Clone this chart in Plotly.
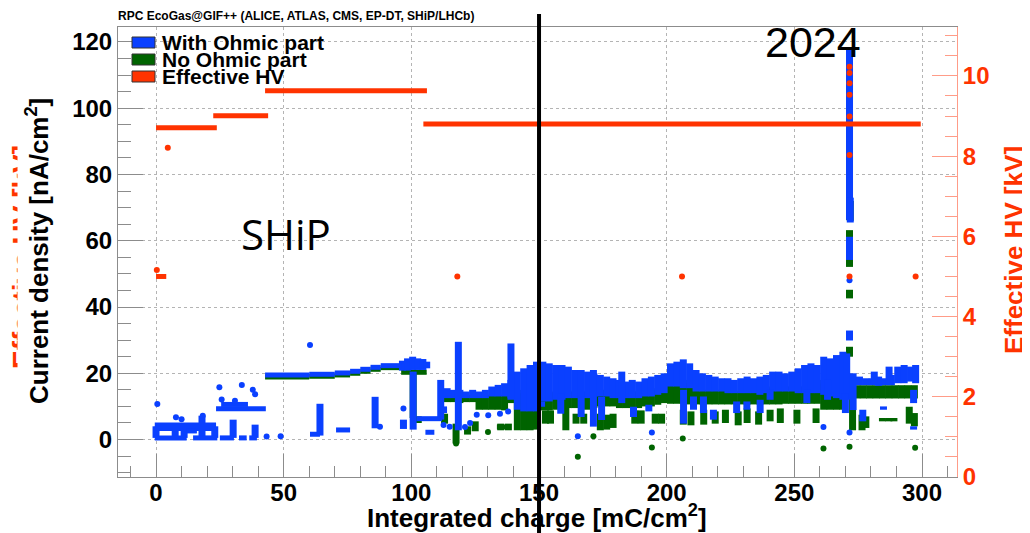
import plotly.graph_objects as go

# ---------------- data ----------------
x_ticks = [0, 50, 100, 150, 200, 250, 300]
y_ticks = [0, 20, 40, 60, 80, 100, 120]
hv_ticks = [0, 2, 4, 6, 8, 10]

# "With Ohmic part" - vertical runs of points (x, low, high) [nA/cm2]
blue_run_x = [0.0, 7.5, 11.0, 18.0, 23.0, 30.2, 38.8,
              64.2, 85.8, 96.9, 100.7,
              96.5, 98.5, 100.5, 102.5, 104.5, 106.0,
              111.5, 112.6,
              114.0, 116.5, 119.0, 121.5, 124.0, 126.5, 129.0, 131.5, 134.0, 136.5, 139.0, 141.5, 144.0, 146.5, 149.0,
              118.4, 139.0,
              151.5, 154.0, 156.5, 159.0, 161.5, 164.0, 166.5, 169.0, 171.5, 174.0,
              176.5, 179.0, 181.5, 184.0, 186.5, 189.0, 191.5, 194.0, 196.5, 199.0,
              151.0, 158.5, 166.5, 171.3, 174.5, 182.4, 187.0, 193.0,
              201.5, 204.0, 206.5, 209.0, 211.5, 214.0, 216.5, 219.0, 221.5, 224.0,
              226.5, 229.0, 231.5, 234.0, 236.5, 239.0, 241.5, 244.0, 246.5, 249.0,
              251.5, 254.0, 256.5, 259.0, 261.5, 264.0, 266.5, 269.0, 270.5,
              273.0, 275.5, 278.0, 280.5, 283.0, 285.5, 288.0, 290.5, 293.0, 295.5, 297.5, 281.3, 287.1,
              206.6, 210.5, 214.4, 218.3, 227.4, 231.4, 236.6, 240.5, 254.9, 263.0, 270.0, 276.8, 284.9, 296.7, 296.7,
              271.6, 271.9, 271.6, 271.6]
blue_run_lo = [0.5, 0.5, 0.5, 0.5, 0.5, 0.5, 0.5,
               1.2, 3.4, 3.2, 3.0,
               20.8, 20.8, 21.0, 21.0, 21.0, 21.5,
               6.0, 8.0,
               12.5, 12.5, 12.5, 12.5, 12.5, 12.5, 12.5, 13.0, 13.0, 13.0, 12.5, 9.0, 8.5, 8.5, 8.5,
               2.8, 12.0,
               11.5, 11.5, 12.0, 12.0, 12.5, 12.5, 12.5, 12.5, 13.0, 13.0,
               13.0, 12.5, 12.5, 12.5, 12.5, 12.5, 13.0, 13.0, 13.5, 14.0,
               9.9, 7.8, 6.8, 3.9, 5.9, 11.0, 6.8, 8.5,
               16.0, 16.0, 15.5, 15.5, 14.5, 14.5, 14.5, 14.5, 14.5, 14.0,
               14.0, 14.0, 14.0, 14.0, 13.5, 14.0, 14.5, 14.5, 14.5, 14.5,
               14.0, 14.0, 14.0, 14.0, 13.5, 13.0, 12.5, 12.0, 12.0,
               8.9, 16.4, 16.4, 16.4, 16.2, 16.4, 16.4, 17.0, 17.0, 17.5, 17.0, 16.5, 16.5,
               4.8, 9.0, 8.0, 6.0, 8.0, 9.0, 8.0, 12.0, 11.0, 12.0, 8.0, 5.5, 9.0, 11.0, 3.0,
               66.3, 65.5, 54.2, 29.9]
blue_run_hi = [4.0, 4.0, 4.0, 7.2, 4.0, 6.0, 4.5,
               10.8, 12.9, 6.0, 20.5,
               23.8, 24.5, 25.0, 24.5, 24.3, 23.5,
               18.0, 10.0,
               15.5, 15.0, 15.0, 14.5, 15.0, 14.5, 15.0, 16.0, 16.5, 17.0, 18.0, 20.5, 21.5, 22.5, 23.5,
               29.5, 29.0,
               23.5, 23.0, 22.5, 22.5, 22.0, 21.0, 21.0, 20.5, 20.0, 19.5,
               19.0, 18.5, 18.0, 17.5, 18.0, 17.5, 18.5, 19.0, 19.5, 20.0,
               11.5, 14.0, 12.9, 21.0, 12.9, 20.5, 9.9, 10.5,
               23.0, 23.5, 24.2, 23.0, 21.0, 20.0, 19.5, 19.0, 18.5, 18.5,
               18.0, 18.5, 19.0, 18.5, 19.0, 19.5, 20.5, 20.5, 20.0, 20.5,
               21.5, 22.5, 23.0, 22.5, 25.0, 24.5, 25.5, 26.5, 26.0,
               20.0, 19.0, 18.5, 18.5, 19.0, 18.5, 19.5, 22.0, 22.5, 22.0, 22.5, 20.5, 22.0,
               15.0, 13.0, 13.0, 9.0, 11.5, 11.5, 12.0, 15.0, 15.0, 18.0, 14.0, 9.0, 10.0, 15.0, 4.0,
               118.0, 73.0, 61.2, 32.9]
# "With Ohmic part" - horizontal runs (y, x_start, x_end)
blue_flat_y = [0.5, 0.5, 0.5, 0.5, 0.5, 4.4, 3.3, 2.6, 9.3, 10.6,
               19.5, 19.7, 20.1, 20.6, 21.2, 21.8, 22.3, 1.6, 2.9, 6.3, 2.2]
blue_flat_x0 = [-0.5, 14.5, 25.0, 32.5, 36.5, -0.5, -0.5, 12.0, 23.5, 25.5,
                42.7, 60.0, 70.0, 76.0, 80.0, 84.0, 88.0, 60.3, 70.5, 102.0, 105.5]
blue_flat_x1 = [12.0, 24.0, 30.5, 35.5, 39.5, 23.5, 23.5, 16.0, 43.0, 36.0,
                60.0, 70.0, 76.0, 80.0, 84.0, 88.0, 96.0, 64.2, 76.0, 112.0, 109.0]
# "With Ohmic part" - isolated points
blue_pt_x = [0.5, 7.8, 10.0, 18.3, 24.8, 33.6, 37.9, 38.8, 25.7, 30.9,
             43.3, 48.8, 60.3, 87.7, 96.9,
             112.6, 115.0, 121.0, 123.0, 125.6, 130.1, 134.7, 137.9,
             165.2, 194.2, 261.4, 271.6, 271.6]
blue_pt_y = [10.7, 6.7, 6.1, 7.2, 15.8, 16.5, 15.0, 13.7, 12.1, 11.7,
             0.9, 1.0, 28.5, 3.9, 9.4,
             4.4, 3.9, 3.8, 5.0, 7.5, 7.3, 7.8, 8.5,
             1.0, 2.1, 3.8, 2.1, 48.1]

# "No Ohmic part" - vertical runs (x, low, high)
green_run_x = [100.7, 102.7,
               114.0, 116.5, 119.0, 121.5, 124.0, 126.5, 129.0, 131.5, 134.0, 136.5, 139.0,
               113.0, 117.5, 122.0, 125.0, 135.0, 138.0,
               141.5, 144.0, 146.5, 149.0,
               151.5, 154.0, 156.5, 159.0, 161.5, 164.0, 166.5, 169.0, 171.5, 174.0,
               176.5, 179.0, 181.5, 184.0, 186.5, 189.0, 191.5, 194.0, 196.5, 199.0,
               152.5, 154.5, 160.5, 164.5, 167.5, 174.0, 176.5, 179.0, 187.5, 190.0, 195.5, 198.0,
               201.5, 204.0, 206.5, 209.0, 211.5, 214.0, 216.5, 219.0, 221.5, 224.0,
               226.5, 229.0, 231.5, 234.0, 236.5, 239.0, 241.5, 244.0, 246.5, 249.0,
               251.5, 254.0, 256.5, 259.0, 261.5, 264.0, 266.5, 269.0,
               206.5, 209.5, 214.5, 219.0, 223.0, 228.0, 231.5, 236.0, 240.5, 244.5, 251.0, 258.5,
               271.6, 271.9, 271.6, 271.6, 271.6, 272.8,
               274.5, 277.0, 279.5, 282.0, 284.5, 287.0, 289.5, 292.0, 294.5, 297.0,
               276.5, 278.0, 284.5, 287.0, 289.0, 295.0, 297.0]
green_run_lo = [6.5, 5.0,
                11.3, 11.3, 11.0, 11.3, 11.3, 9.0, 9.0, 9.0, 9.0, 8.8, 11.0,
                4.8, -1.2, 1.5, 2.5, 2.8, 2.8,
                2.8, 2.8, 2.8, 3.0,
                8.8, 8.8, 9.0, 9.0, 9.5, 9.5, 9.5, 9.0, 9.5, 10.0,
                10.0, 10.0, 9.5, 9.5, 9.5, 9.5, 10.0, 10.0, 10.5, 11.0,
                4.8, 4.8, 2.8, 4.8, 4.8, 2.8, 3.0, 3.5, 4.8, 4.8, 4.8, 4.8,
                10.8, 10.8, 10.8, 10.6, 10.6, 10.6, 10.6, 10.6, 10.6, 10.6,
                10.6, 10.6, 10.6, 10.6, 10.6, 10.6, 10.6, 10.6, 10.8, 10.8,
                10.8, 10.8, 10.8, 10.8, 9.0, 9.0, 9.0, 9.0,
                4.5, 4.3, 4.5, 4.8, 5.0, 4.3, 5.0, 4.5, 5.5, 5.0, 4.8, 5.0,
                66.3, 66.0, 52.1, 42.6, 25.0, 2.8,
                12.4, 12.4, 12.4, 12.4, 12.4, 12.4, 12.4, 12.4, 12.4, 12.4,
                2.8, 3.5, 5.5, 5.5, 5.5, 4.8, 4.0]
green_run_hi = [20.0, 7.0,
                13.5, 13.5, 13.5, 13.5, 13.5, 13.5, 13.5, 13.5, 13.5, 13.5, 14.0,
                7.8, 4.8, 4.0, 5.5, 4.8, 4.8,
                14.0, 15.0, 15.0, 15.5,
                14.0, 14.0, 14.5, 14.5, 14.5, 14.5, 14.5, 14.5, 15.0, 15.0,
                15.0, 15.0, 14.5, 14.5, 14.5, 14.5, 15.0, 15.0, 15.5, 16.0,
                8.8, 8.8, 14.0, 7.8, 7.8, 7.8, 7.5, 7.8, 8.8, 8.8, 7.8, 7.8,
                18.0, 18.0, 18.0, 17.0, 15.0, 15.0, 15.0, 15.0, 15.0, 14.5,
                14.5, 14.5, 15.0, 15.0, 15.0, 15.5, 16.0, 16.0, 16.0, 16.0,
                16.0, 16.0, 16.5, 17.0, 18.0, 18.0, 18.0, 18.5,
                9.0, 8.5, 9.0, 8.5, 9.0, 8.5, 9.4, 8.5, 9.0, 9.4, 9.0, 9.4,
                108.5, 72.0, 63.2, 45.2, 28.0, 16.0,
                16.4, 16.4, 16.4, 16.4, 16.4, 16.4, 16.4, 16.4, 16.4, 16.4,
                7.5, 7.0, 6.5, 6.5, 6.5, 9.9, 8.0]
green_flat_y = [18.9, 19.1, 19.5, 20.0, 20.6, 21.2, 21.7, 20.3, 3.8]
green_flat_x0 = [42.7, 60.0, 70.0, 76.0, 80.0, 84.0, 88.0, 96.0, 133.5]
green_flat_x1 = [60.0, 70.0, 76.0, 80.0, 84.0, 88.0, 96.0, 106.0, 139.0]
green_pt_x = [117.5, 165.2, 171.3, 194.2, 206.3, 261.4, 271.6, 297.3, 130.0]
green_pt_y = [-1.2, -5.2, 1.0, -2.4, 0.3, -2.7, -2.2, -2.5, 2.3]

# Effective HV [kV]
hv_flat_y = [8.71, 9.01, 9.63, 8.80, 5.0]
hv_flat_x0 = [0.0, 22.4, 42.7, 104.7, 0.0]
hv_flat_x1 = [23.8, 43.9, 106.1, 299.5, 4.0]
hv_pt_x = [4.6, 0.3, 118.0, 206.0, 297.5, 271.6, 271.6, 271.6, 271.6, 271.6, 271.6, 271.6]
hv_pt_y = [8.21, 5.16, 5.0, 5.0, 5.0, 10.23, 10.07, 9.82, 9.53, 8.99, 8.03, 5.0]

marker_charge = 150  # vertical marker line position [mC/cm2]

# ---------------- styling ----------------
BLUE = '#0a40ff'
GREEN = '#006400'
RED = '#ff3300'
SALMON = '#ff9c88'
FRAME = '#8c8c8c'
FONT = 'Liberation Sans, Arial, Helvetica, sans-serif'

W, H = 1030, 533          # window size
OFF = 8                   # page body margin of the html page
L, R, T, B = 118, 957, 27, 477   # plot frame in window pixels


def px(xp):
    return (xp - L) / (R - L)


def py(yp):
    return (B - yp) / (B - T)


def vruns(xs, lo, hi):
    X, Y = [], []
    for x, a, b in zip(xs, lo, hi):
        X += [x, x, None]
        Y += [a, b, None]
    return X, Y


def hruns(ys, x0, x1):
    X, Y = [], []
    for y, a, b in zip(ys, x0, x1):
        X += [a, b, None]
        Y += [y, y, None]
    return X, Y


fig = go.Figure()


def add_series(run, flat, pts, color, yaxis='y', run_w=7, flat_w=6, msize=6):
    if run:
        rx, ry = vruns(*run)
        fig.add_trace(go.Scatter(x=rx, y=ry, mode='lines', yaxis=yaxis,
                                 line=dict(color=color, width=run_w), hoverinfo='skip'))
    fx, fy = hruns(*flat)
    fig.add_trace(go.Scatter(x=fx, y=fy, mode='lines', yaxis=yaxis,
                             line=dict(color=color, width=flat_w), hoverinfo='skip'))
    fig.add_trace(go.Scatter(x=pts[0], y=pts[1], mode='markers', yaxis=yaxis,
                             marker=dict(color=color, size=msize, line=dict(width=0))))


add_series((green_run_x, green_run_lo, green_run_hi),
           (green_flat_y, green_flat_x0, green_flat_x1),
           (green_pt_x, green_pt_y), GREEN, flat_w=5)
add_series((blue_run_x, blue_run_lo, blue_run_hi),
           (blue_flat_y, blue_flat_x0, blue_flat_x1),
           (blue_pt_x, blue_pt_y), BLUE, flat_w=5)
add_series(None,
           (hv_flat_y, hv_flat_x0, hv_flat_x1),
           (hv_pt_x, hv_pt_y), RED, yaxis='y2', flat_w=5, msize=6)

tick_font = dict(family=FONT, size=24, color='black', weight='bold')

fig.update_layout(
    width=W - OFF, height=H - OFF,
    margin=dict(l=L - OFF, r=W - R, t=T - OFF, b=H - B, autoexpand=False),
    paper_bgcolor='white', plot_bgcolor='white',
    showlegend=False,
    font=dict(family=FONT),
    xaxis=dict(range=[-14.9, 313.7], tickvals=x_ticks, ticktext=[str(v) for v in x_ticks],
               ticks='inside', ticklen=23, tickwidth=1, tickcolor=FRAME,
               showgrid=True, gridcolor='#b4b4b4', griddash='dot', gridwidth=1,
               showline=True, linecolor=FRAME, linewidth=1, mirror=True,
               zeroline=False, tickfont=tick_font, ticklabelstandoff=-6,
               minor=dict(tick0=0, dtick=10, ticks='inside', ticklen=11,
                          tickcolor=FRAME, tickwidth=1, showgrid=False)),
    yaxis=dict(range=[-11.3, 124.5], tickvals=y_ticks, ticktext=[str(v) for v in y_ticks],
               ticks='inside', ticklen=25, tickwidth=1, tickcolor=FRAME,
               showgrid=True, gridcolor='#b4b4b4', griddash='dot', gridwidth=1,
               showline=True, linecolor=FRAME, linewidth=1, mirror=False,
               zeroline=False, tickfont=tick_font,
               minor=dict(tick0=0, dtick=5, ticks='inside', ticklen=13,
                          tickcolor=FRAME, tickwidth=1, showgrid=False)),
    yaxis2=dict(range=[0, 11.22], overlaying='y', side='right',
                tickvals=hv_ticks, ticktext=[str(v) for v in hv_ticks],
                ticks='inside', ticklen=25, tickwidth=1, tickcolor=SALMON,
                showgrid=False, showline=True, linecolor=SALMON, linewidth=1,
                zeroline=False, tickfont=dict(family=FONT, size=24, color=RED, weight='bold'),
                minor=dict(tick0=0, dtick=0.5, ticks='inside', ticklen=12,
                           tickcolor=SALMON, tickwidth=1)),
)

# vertical marker line at 150 mC/cm2
fig.add_shape(type='line', xref='x', yref='paper', x0=marker_charge, x1=marker_charge,
              y0=py(533), y1=py(14), line=dict(color='black', width=4), layer='above')

ann = []
ann.append(dict(text='RPC EcoGas@GIF++ (ALICE, ATLAS, CMS, EP-DT, SHiP/LHCb)',
                x=px(116), y=py(16), xanchor='left', yanchor='middle',
                font=dict(family=FONT, size=12, color='black', weight='bold')))
# legend
legend_items = [('With Ohmic part', BLUE), ('No Ohmic part', GREEN), ('Effective HV', RED)]
legend_rows = [42.5, 59.5, 76.5]
for (label, col), yc in zip(legend_items, legend_rows):
    fig.add_shape(type='rect', xref='paper', yref='paper',
                  x0=px(132), x1=px(155), y0=py(yc + 5.5), y1=py(yc - 5.5),
                  fillcolor=col, line=dict(color='#333333', width=1), layer='above')
    ann.append(dict(text=label, x=px(160), y=py(yc), xanchor='left', yanchor='middle',
                    font=dict(family=FONT, size=21, color='black', weight='bold')))
ann.append(dict(text='2024', x=px(813), y=py(42), xanchor='center', yanchor='middle',
                font=dict(family=FONT, size=43, color='black')))
ann.append(dict(text='SHiP', x=px(286), y=py(234), xanchor='center', yanchor='middle',
                font=dict(family='Open Sans, Noto Sans, sans-serif', size=42, color='black')))
# a second, mostly hidden axis title lying behind the left one (only its tops peek out)
ann.append(dict(text='Effective HV [kV]', x=px(23), y=py(257),
                textangle=-90, xanchor='center', yanchor='middle',
                font=dict(family=FONT, size=28, color=RED, weight='bold')))
ann.append(dict(text='Current density [nA/cm<sup>2</sup>]', x=px(37), y=py(251),
                textangle=-90, xanchor='center', yanchor='middle',
                bgcolor='white', borderpad=3,
                font=dict(family=FONT, size=26, color='black', weight='bold')))
ann.append(dict(text='Integrated charge [mC/cm<sup>2</sup>]', x=px(537), y=py(516),
                xanchor='center', yanchor='middle',
                font=dict(family=FONT, size=26, color='black', weight='bold')))
ann.append(dict(text='Effective HV [kV]', x=px(1014), y=py(250),
                textangle=-90, xanchor='center', yanchor='middle',
                font=dict(family=FONT, size=26, color=RED, weight='bold')))
for a in ann:
    a.update(xref='paper', yref='paper', showarrow=False)
fig.update_layout(annotations=ann)

fig.write_html('out.html')
